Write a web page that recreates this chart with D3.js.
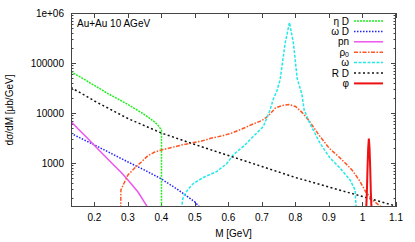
<!DOCTYPE html>
<html>
<head>
<meta charset="utf-8">
<script src="https://cdn.jsdelivr.net/npm/d3@7"></script>
<style>
body { margin:0; background:#fff; }
text { font-family: "Liberation Sans", Arial, sans-serif; }
</style>
</head>
<body>
<div id="chart"></div>
<script>
// dilepton mass spectra, Au+Au 10 AGeV
var etaDM = [0.13, 0.15, 0.18, 0.21, 0.24, 0.27, 0.30, 0.32, 0.34, 0.36, 0.38, 0.39, 0.40, 0.4001];
var etaDV = [67600, 56200, 42700, 32400, 24500, 19100, 14800, 12300, 10200, 8300, 6600, 5600, 4600, 10];

var omegaDM = [0.13, 0.2, 0.3, 0.35, 0.4, 0.45, 0.5, 0.53];
var omegaDV = [3900, 2300, 1050, 720, 480, 290, 166, 100];

var pnM = [0.13, 0.15, 0.18, 0.2, 0.25, 0.28, 0.3, 0.33, 0.36, 0.37];
var pnV = [6800, 4900, 3100, 2240, 1020, 645, 457, 263, 126, 89];

var rhoM = [0.278, 0.279, 0.29, 0.30, 0.32, 0.34, 0.36, 0.38, 0.40, 0.43, 0.46, 0.49, 0.52, 0.55, 0.58,
            0.61, 0.64, 0.67, 0.70, 0.72, 0.74, 0.76, 0.78, 0.80, 0.82, 0.84, 0.87, 0.90, 0.93, 0.95,
            0.97, 0.99, 1.01, 1.03, 1.06];
var rhoV = [80, 290, 417, 575, 795, 1050, 1410, 1660, 1820, 2040, 2290, 2510, 2750, 3160, 3470,
            3980, 4790, 5890, 7080, 8910, 12600, 14100, 14800, 13500, 10200, 7080, 3630, 2000, 1320, 977,
            708, 457, 263, 182, 126];

var omegaM = [0.455, 0.465, 0.48, 0.495, 0.525, 0.565, 0.595, 0.614, 0.649, 0.674, 0.704, 0.724, 0.734,
              0.745, 0.754, 0.769, 0.782, 0.794, 0.805, 0.819, 0.826, 0.843, 0.873, 0.903, 0.933, 0.963,
              0.978, 0.981, 0.982];
var omegaV = [80, 214, 302, 389, 513, 676, 977, 1450, 2290, 3390, 5370, 11500, 19100,
              28200, 45700, 245000, 646000, 245000, 49000, 24000, 11500, 6170, 2510, 1260, 794, 457,
              288, 126, 80];

var rdM = [0.13, 0.2, 0.3, 0.4, 0.5, 0.6, 0.7, 0.8, 0.9, 1.0, 1.1];
var rdV = [32400, 17400, 7760, 3980, 2340, 1410, 851, 513, 331, 214, 138];

var phiM = [1.010, 1.013, 1.015, 1.017, 1.019, 1.021, 1.023, 1.025, 1.028];
var phiV = [80, 250, 800, 2000, 3100, 2000, 800, 250, 80];

var xTicks = [0.2, 0.3, 0.4, 0.5, 0.6, 0.7, 0.8, 0.9, 1, 1.1];
var yTicks = [1000, 10000, 100000, 1000000];
var yTickLabels = ["1000", "10000", "100000", "1e+06"];

var series = [
  {name: "η D", m: etaDM, v: etaDV, color: "#22ee22", dash: "2,1", w: 1.5},
  {name: "ω D", m: omegaDM, v: omegaDV, color: "#2222ff", dash: "1.5,1.5", w: 1.5},
  {name: "pn", m: pnM, v: pnV, color: "#ee55ee", dash: null, w: 1.5},
  {name: "ρ0", m: rhoM, v: rhoV, color: "#ff5522", dash: "4,1.5,1.5,1.5", w: 1.5},
  {name: "ω", m: omegaM, v: omegaV, color: "#22e8e8", dash: "3,1.5", w: 1.5},
  {name: "R D", m: rdM, v: rdV, color: "#111111", dash: "2,2.5", w: 1.5},
  {name: "φ", m: phiM, v: phiV, color: "#ee1111", dash: null, w: 2}
];

var W = 415, H = 242;
var pL = 71, pR = 396, pT = 13, pB = 207;

var svg = d3.select("#chart").append("svg")
    .attr("width", W).attr("height", H)
    .style("font-size", "10px");

var x = d3.scaleLinear().domain([0.13, 1.1]).range([pL, pR]);
var y = d3.scaleLog().domain([132, 1e6]).range([pB, pT]);

svg.append("clipPath").attr("id", "clip")
  .append("rect").attr("x", pL).attr("y", pT)
  .attr("width", pR - pL).attr("height", pB - pT);

// ticks (mirrored on all four sides)
var tk = svg.append("g").attr("stroke", "#444").attr("stroke-width", 1);
xTicks.forEach(function(t) {
  var px = Math.round(x(t)) + 0.5;
  tk.append("line").attr("x1", px).attr("x2", px).attr("y1", pB).attr("y2", pB - 5);
  tk.append("line").attr("x1", px).attr("x2", px).attr("y1", pT).attr("y2", pT + 5);
});
var minor = [];
for (var e = 2; e < 6; e++) {
  for (var k = 1; k < 10; k++) minor.push(k * Math.pow(10, e));
}
minor.forEach(function(t) {
  if (t < 132) return;
  var py = Math.round(y(t)) + 0.5;
  var len = (t === 1000 || t === 10000 || t === 100000) ? 5 : 2.5;
  tk.append("line").attr("x1", pL).attr("x2", pL + len).attr("y1", py).attr("y2", py);
  tk.append("line").attr("x1", pR).attr("x2", pR - len).attr("y1", py).attr("y2", py);
});
tk.append("line").attr("x1", pL).attr("x2", pL + 5).attr("y1", pT + 0.5).attr("y2", pT + 0.5);

// labels
svg.selectAll("text.xt").data(xTicks).enter().append("text")
  .attr("x", function(d) { return x(d); }).attr("y", 221)
  .attr("text-anchor", "middle").text(function(d) { return d; });
svg.selectAll("text.yt").data(yTicks).enter().append("text")
  .attr("x", 64).attr("y", function(d) { return y(d) + 3.5; })
  .attr("text-anchor", "end").text(function(d, i) { return yTickLabels[i]; });

svg.append("text").attr("x", (pL + pR) / 2).attr("y", 237)
  .attr("text-anchor", "middle").text("M [GeV]");
svg.append("text").attr("transform", "translate(13," + ((pT + pB) / 2) + ") rotate(-90)")
  .attr("text-anchor", "middle").text("dσ/dM [μb/GeV]");
svg.append("text").attr("x", 77).attr("y", 27).text("Au+Au 10 AGeV");

// curves
var line = d3.line()
  .x(function(d) { return x(d[0]); })
  .y(function(d) { return y(Math.max(d[1], 1)); });

var plot = svg.append("g").attr("clip-path", "url(#clip)");
series.forEach(function(s) {
  var pts = s.m.map(function(m, i) { return [m, s.v[i]]; });
  plot.append("path").attr("d", line(pts))
    .attr("fill", "none").attr("stroke", s.color)
    .attr("stroke-width", s.w)
    .attr("stroke-dasharray", s.dash);
});

// legend
var lg = svg.append("g");
series.forEach(function(s, i) {
  var ly = 21 + i * 10.4;
  var t = lg.append("text").attr("x", 349).attr("y", ly + 3.5).attr("text-anchor", "end");
  if (s.name === "ρ0") {
    t.append("tspan").text("ρ");
    t.append("tspan").attr("dy", 1.5).attr("font-size", "7px").text("0");
  } else {
    t.text(s.name);
  }
  lg.append("line").attr("x1", 354).attr("x2", 383).attr("y1", ly).attr("y2", ly)
    .attr("stroke", s.color).attr("stroke-width", s.w)
    .attr("stroke-dasharray", s.dash);
});

// frame
svg.append("rect").attr("x", pL + 0.5).attr("y", pT + 0.5)
  .attr("width", pR - pL - 1).attr("height", pB - pT - 1)
  .attr("fill", "none").attr("stroke", "#444").attr("stroke-width", 1);
</script>
</body>
</html>
